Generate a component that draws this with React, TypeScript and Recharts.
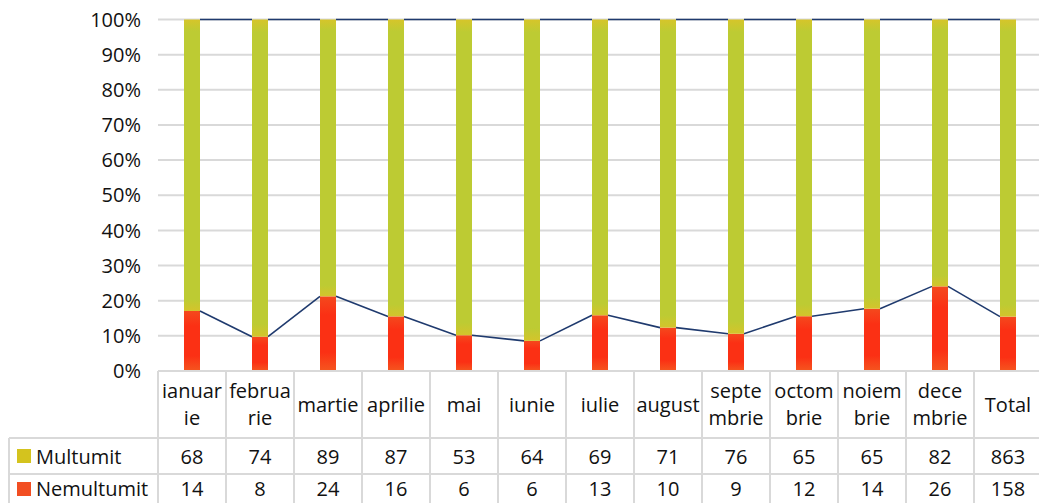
import React from 'react';
import { ComposedChart, Bar, XAxis, YAxis, CartesianGrid } from 'recharts';

const months = [
  'ianuarie', 'februarie', 'martie', 'aprilie', 'mai', 'iunie', 'iulie',
  'august', 'septembrie', 'octombrie', 'noiembrie', 'decembrie', 'Total',
];
// header cells wrap mid-word like in the original table
const headerLines = [
  ['ianuar', 'ie'], ['februa', 'rie'], ['martie'], ['aprilie'], ['mai'], ['iunie'], ['iulie'],
  ['august'], ['septe', 'mbrie'], ['octom', 'brie'], ['noiem', 'brie'], ['dece', 'mbrie'], ['Total'],
];
const multumit = [68, 74, 89, 87, 53, 64, 69, 71, 76, 65, 65, 82, 863];
const nemultumit = [14, 8, 24, 16, 6, 6, 13, 10, 9, 12, 14, 26, 158];
const yTicks = [0, 0.1, 0.2, 0.3, 0.4, 0.5, 0.6, 0.7, 0.8, 0.9, 1];

const data = months.map((m, i) => ({ month: m, multumit: multumit[i], nemultumit: nemultumit[i] }));

const PLOT_LEFT = 158;
const STEP = 68;
const PLOT_W = STEP * months.length;
const CHART_W = PLOT_LEFT + PLOT_W;
const PLOT_TOP = 19.5;
const PLOT_BOTTOM = 371;
const CHART_H = 400;
const FONT = '"Open Sans", sans-serif';
const LINE_COLOR = '#1F3A6E';
const GRID = '#d9d9d9';

const frac = (i: number) => nemultumit[i] / (nemultumit[i] + multumit[i]);

const RedShape = (props: any) => {
  const { x, y, width, height, index } = props;
  const bottom = y + height;
  const full = height / frac(index);
  return (
    <g>
      <rect x={x} y={y} width={width} height={height} fill="url(#redGrad)" />
      {index < months.length - 1 && (
        <line
          x1={x + width}
          y1={y}
          x2={x + STEP}
          y2={bottom - frac(index + 1) * full}
          stroke={LINE_COLOR}
          strokeWidth={1.6}
        />
      )}
    </g>
  );
};

const GreenShape = (props: any) => {
  const { x, y, width, height, index } = props;
  return (
    <g>
      <rect x={x} y={y} width={width} height={height} fill="url(#greenGrad)" />
      {index < months.length - 1 && (
        <line x1={x + width} y1={y} x2={x + STEP} y2={y} stroke={LINE_COLOR} strokeWidth={1.6} />
      )}
    </g>
  );
};

const ROW1 = 438;
const ROW2 = 474;
const ROW3 = 510;
const TEXT1_Y = 457;
const TEXT2_Y = 489;

const DataTable = () => (
  <svg
    width={1039}
    height={503}
    style={{ position: 'absolute', left: 0, top: 0, pointerEvents: 'none' }}
  >
    <defs>
      <linearGradient id="greenGrad" x1="0" y1="0" x2="0" y2="1">
        <stop offset="0" stopColor="#D6C52A" />
        <stop offset="0.04" stopColor="#BDCB33" />
        <stop offset="0.96" stopColor="#BDCB33" />
        <stop offset="1" stopColor="#D4C42B" />
      </linearGradient>
      <linearGradient id="redGrad" x1="0" y1="0" x2="0" y2="1">
        <stop offset="0" stopColor="#F4491D" />
        <stop offset="0.25" stopColor="#FB3014" />
        <stop offset="0.75" stopColor="#FB3014" />
        <stop offset="1" stopColor="#F5561F" />
      </linearGradient>
    </defs>
    <g stroke={GRID} strokeWidth={2}>
      <line x1={PLOT_LEFT} y1={PLOT_BOTTOM} x2={CHART_W} y2={PLOT_BOTTOM} />
      <line x1={9} y1={ROW1} x2={CHART_W} y2={ROW1} />
      <line x1={9} y1={ROW2} x2={CHART_W} y2={ROW2} />
      <line x1={9} y1={ROW3} x2={CHART_W} y2={ROW3} />
      <line x1={9} y1={ROW1} x2={9} y2={ROW3} />
      {months.map((_, k) => (
        <line key={k} x1={PLOT_LEFT + k * STEP} y1={PLOT_BOTTOM} x2={PLOT_LEFT + k * STEP} y2={ROW3} />
      ))}
      <line x1={CHART_W} y1={PLOT_BOTTOM} x2={CHART_W} y2={ROW3} />
    </g>
    <g fontFamily={FONT} fontSize={20} fill="#111" textAnchor="middle">
      {headerLines.map((lines, k) => {
        const cx = PLOT_LEFT + k * STEP + STEP / 2;
        const mid = (PLOT_BOTTOM + ROW1) / 2;
        if (lines.length === 1) {
          return (
            <text key={k} x={cx} y={mid} dy="0.35em">
              {lines[0]}
            </text>
          );
        }
        return (
          <g key={k}>
            <text x={cx} y={mid - 13.5} dy="0.35em">{lines[0]}</text>
            <text x={cx} y={mid + 13.5} dy="0.35em">{lines[1]}</text>
          </g>
        );
      })}
      {multumit.map((v, k) => (
        <text key={'m' + k} x={PLOT_LEFT + k * STEP + STEP / 2} y={TEXT1_Y} dy="0.35em">
          {v}
        </text>
      ))}
      {nemultumit.map((v, k) => (
        <text key={'n' + k} x={PLOT_LEFT + k * STEP + STEP / 2} y={TEXT2_Y} dy="0.35em">
          {v}
        </text>
      ))}
    </g>
    <rect x={17} y={449} width={14} height={14} fill="#D4C31E" />
    <rect x={17} y={482} width={14} height={14} fill="#F24E22" />
    <g fontFamily={FONT} fontSize={20} fill="#111">
      <text x={36} y={TEXT1_Y} dy="0.35em">Multumit</text>
      <text x={36} y={TEXT2_Y} dy="0.35em">Nemultumit</text>
    </g>
  </svg>
);

export default function App() {
  return (
    <div
      style={{
        position: 'absolute',
        left: 0,
        top: 0,
        width: 1039,
        height: 503,
        overflow: 'hidden',
        background: '#fff',
      }}
    >
      <ComposedChart
        width={CHART_W}
        height={CHART_H}
        data={data}
        stackOffset="expand"
        barSize={16}
        margin={{ top: PLOT_TOP, right: 0, bottom: CHART_H - PLOT_BOTTOM, left: PLOT_LEFT - 100 }}
      >
        <CartesianGrid vertical={false} stroke={GRID} strokeWidth={2} />
        <XAxis dataKey="month" hide height={0} />
        <YAxis
          width={100}
          domain={[0, 1]}
          ticks={yTicks}
          interval={0}
          axisLine={false}
          tickLine={false}
          tickSize={0}
          tickMargin={17}
          tickFormatter={(v: number) => `${Math.round(v * 100)}%`}
          tick={{ fontFamily: FONT, fontSize: 20, fill: '#111' }}
        />
        <Bar dataKey="nemultumit" stackId="a" shape={RedShape} isAnimationActive={false} />
        <Bar dataKey="multumit" stackId="a" shape={GreenShape} isAnimationActive={false} />
      </ComposedChart>
      <DataTable />
    </div>
  );
}
